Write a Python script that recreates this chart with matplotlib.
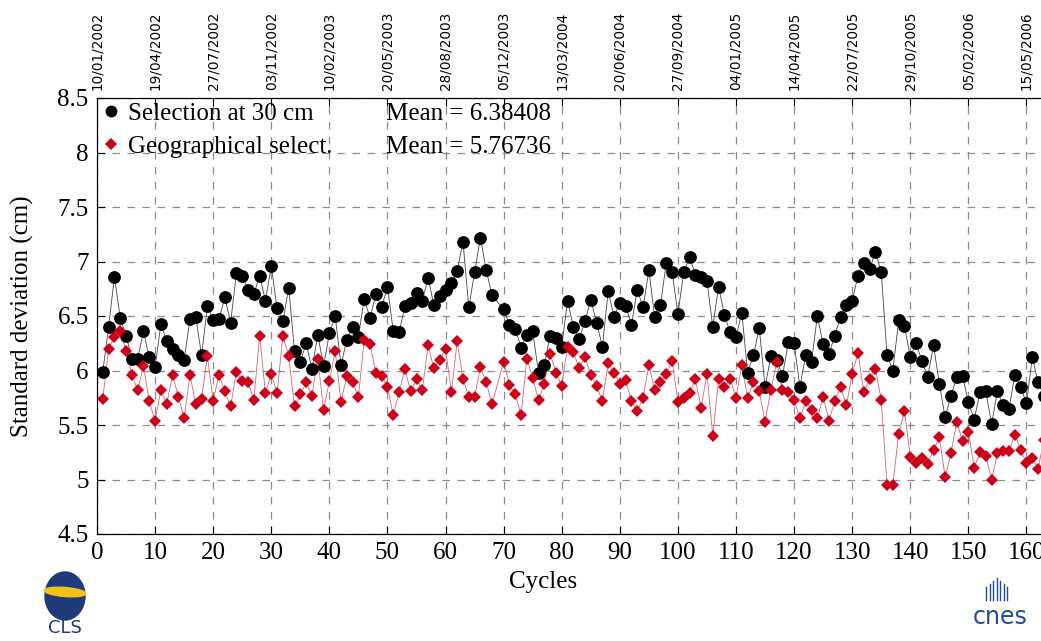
#!/usr/bin/env python3
"""
Standard deviation per cycle: selection at 30 cm vs geographical selection.
"""

import numpy as np
import matplotlib
matplotlib.use('Agg')
import matplotlib.pyplot as plt
from matplotlib.lines import Line2D
from matplotlib.patches import Ellipse

# cycles (cycle 69 missing)
cycles = [c for c in range(1, 164) if c != 69]

sel_30cm = [
    5.99, 6.40, 6.86, 6.48, 6.32, 6.11, 6.11, 6.36, 6.12, 6.03,   # 1-10
    6.43, 6.27, 6.20, 6.14, 6.10, 6.47, 6.49, 6.14, 6.59, 6.46,   # 11-20
    6.47, 6.67, 6.44, 6.89, 6.87, 6.74, 6.70, 6.87, 6.64, 6.96,   # 21-30
    6.57, 6.45, 6.76, 6.18, 6.08, 6.25, 6.01, 6.33, 6.04, 6.34,   # 31-40
    6.50, 6.05, 6.28, 6.40, 6.31, 6.66, 6.48, 6.70, 6.58, 6.77,   # 41-50
    6.36, 6.35, 6.59, 6.62, 6.71, 6.64, 6.85, 6.60, 6.68, 6.74,   # 51-60
    6.80, 6.91, 7.18, 6.58, 6.90, 7.22, 6.92, 6.69, 6.56,         # 61-68, 70
    6.42, 6.38, 6.21, 6.33, 6.36, 5.98, 6.05, 6.32, 6.30, 6.22,   # 71-80
    6.64, 6.40, 6.29, 6.45, 6.65, 6.44, 6.22, 6.73, 6.49, 6.62,   # 81-90
    6.59, 6.42, 6.74, 6.58, 6.92, 6.49, 6.60, 6.99, 6.90, 6.52,   # 91-100
    6.90, 7.04, 6.88, 6.86, 6.82, 6.40, 6.77, 6.51, 6.35, 6.31,   # 101-110
    6.53, 5.98, 6.14, 6.39, 5.85, 6.13, 6.10, 5.95, 6.26, 6.25,   # 111-120
    5.85, 6.14, 6.08, 6.50, 6.24, 6.15, 6.32, 6.49, 6.60, 6.64,   # 121-130
    6.87, 6.99, 6.93, 7.09, 6.90, 6.14, 6.00, 6.46, 6.41, 6.12,   # 131-140
    6.25, 6.09, 5.94, 6.23, 5.88, 5.57, 5.77, 5.94, 5.95, 5.71,   # 141-150
    5.55, 5.80, 5.81, 5.51, 5.81, 5.68, 5.65, 5.96, 5.85, 5.70,   # 151-160
    6.12, 5.89, 5.77,                                             # 161-163
]

geo_select = [
    5.74, 6.20, 6.31, 6.36, 6.18, 5.96, 5.82, 6.04, 5.72, 5.54,   # 1-10
    5.82, 5.69, 5.96, 5.76, 5.56, 5.96, 5.69, 5.74, 6.13, 5.72,   # 11-20
    5.96, 5.81, 5.67, 5.99, 5.90, 5.89, 5.73, 6.32, 5.79, 5.97,   # 21-30
    5.79, 6.32, 6.13, 5.67, 5.78, 5.89, 5.77, 6.11, 5.64, 5.90,   # 31-40
    6.18, 5.71, 5.95, 5.89, 5.76, 6.28, 6.24, 5.98, 5.95, 5.85,   # 41-50
    5.59, 5.80, 6.01, 5.81, 5.92, 5.82, 6.23, 6.02, 6.10, 6.20,   # 51-60
    5.80, 6.27, 5.92, 5.76, 5.76, 6.03, 5.89, 5.69, 6.08,         # 61-68, 70
    5.87, 5.78, 5.59, 6.11, 5.93, 5.73, 5.88, 6.15, 5.98, 5.86,   # 71-80
    6.22, 6.17, 6.02, 6.12, 5.96, 5.86, 5.72, 6.07, 5.98, 5.88,   # 81-90
    5.91, 5.72, 5.63, 5.75, 6.05, 5.82, 5.89, 5.97, 6.09, 5.71,   # 91-100
    5.75, 5.79, 5.92, 5.66, 5.97, 5.40, 5.92, 5.85, 5.92, 5.75,   # 101-110
    6.05, 5.75, 5.89, 5.81, 5.53, 5.82, 6.08, 5.82, 5.80, 5.73,   # 111-120
    5.56, 5.72, 5.64, 5.56, 5.76, 5.54, 5.72, 5.85, 5.68, 5.97,   # 121-130
    6.16, 5.80, 5.92, 6.01, 5.73, 4.95, 4.95, 5.42, 5.63, 5.21,   # 131-140
    5.15, 5.20, 5.14, 5.27, 5.39, 5.02, 5.24, 5.53, 5.35, 5.44,   # 141-150
    5.11, 5.25, 5.22, 5.00, 5.24, 5.26, 5.26, 5.41, 5.27, 5.15,   # 151-160
    5.20, 5.10, 5.36,                                             # 161-163
]

date_ticks = list(range(0, 161, 10))
date_labels = [
    '10/01/2002', '19/04/2002', '27/07/2002', '03/11/2002', '10/02/2003',
    '20/05/2003', '28/08/2003', '05/12/2003', '13/03/2004', '20/06/2004',
    '27/09/2004', '04/01/2005', '14/04/2005', '22/07/2005', '29/10/2005',
    '05/02/2006', '15/05/2006',
]

series_names = ['Selection at 30 cm', 'Geographical select.']
mean_labels = ['Mean = 6.38408', 'Mean = 5.76736']

BLACK = '#000000'
RED = '#cc0018'
W, H = 1041, 641

plt.rcParams['font.family'] = ['Liberation Serif', 'DejaVu Serif']
plt.rcParams['font.size'] = 18

fig = plt.figure(figsize=(W / 100, H / 100), dpi=100)
ax = fig.add_axes([97 / W, 1 - 534 / H, (W - 97) / W, (534 - 98) / H])

ax.plot(cycles, sel_30cm, '-', color='#444444', lw=0.6, zorder=3)
ax.plot(cycles, sel_30cm, 'o', color=BLACK, ms=9.2, mew=0, zorder=4)
ax.plot(cycles, geo_select, '-', color='#e06070', lw=0.6, zorder=3)
ax.plot(cycles, geo_select, 'D', color=RED, ms=6.3, mew=0, zorder=4)

ax.set_xlim(0, 162.5)
ax.set_ylim(4.5, 8.5)
ax.set_xticks(range(0, 161, 10))
ax.set_yticks(np.arange(4.5, 8.51, 0.5))
ax.set_yticklabels(['%g' % v for v in np.arange(4.5, 8.51, 0.5)])
ax.tick_params(direction='in', length=6, width=0.8, pad=6)
ax.grid(True, color='#8c8c8c', linestyle=(0, (6, 6)), linewidth=0.9)
ax.set_axisbelow(True)
ax.spines['right'].set_visible(False)
for s in ('left', 'bottom', 'top'):
    ax.spines[s].set_linewidth(0.8)

ax.set_xlabel('Cycles')
ax.xaxis.set_label_coords((543 - 97) / (W - 97), -0.085)
ax.set_ylabel('Standard deviation (cm)')
ax.yaxis.set_label_coords(-(97 - 34) / (W - 97), 0.5)

# date axis on top
top = ax.twiny()
top.set_xlim(ax.get_xlim())
top.set_xticks(date_ticks)
top.set_xticklabels(date_labels, rotation=90, family='DejaVu Sans', fontsize=9.8)
top.tick_params(direction='in', length=6, width=0.8, pad=6)
top.spines['right'].set_visible(False)

# legend (names) + mean values
handles = [
    Line2D([], [], ls='none', marker='o', color=BLACK, ms=8.5, mew=0),
    Line2D([], [], ls='none', marker='D', color=RED, ms=5.8, mew=0),
]
ax.legend(handles, series_names, loc='upper left',
          bbox_to_anchor=(98.5 / W, 1 - 102 / H), bbox_transform=fig.transFigure,
          frameon=False, borderpad=0, borderaxespad=0, handlelength=1.0,
          handletextpad=0.17, labelspacing=0.42, fontsize=18)
fig.text(386 / W, 1 - 120 / H, mean_labels[0], va='baseline', fontsize=18)
fig.text(386 / W, 1 - 153 / H, mean_labels[1], va='baseline', fontsize=18)

# logos (rough approximations)
fig.add_artist(Ellipse((65 / W, 1 - 596 / H), 40 / W, 48 / H,
                       transform=fig.transFigure, color='#1f3a7a'))
fig.add_artist(Ellipse((65 / W, 1 - 592 / H), 42 / W, 9 / H, angle=-8,
                       transform=fig.transFigure, color='#f2c21b'))
fig.text(65 / W, 1 - 633 / H, 'CLS', ha='center', va='baseline',
         family='DejaVu Sans', fontsize=13, color='#1f3a7a')
for i in range(7):
    x0 = (986 + i * 3.5) / W
    fig.add_artist(Line2D([x0, x0], [1 - 600 / H, 1 - (578 + abs(3 - i) * 3) / H],
                          transform=fig.transFigure, color='#1d4c9c', lw=1))
fig.text(1000 / W, 1 - 624 / H, 'cnes', ha='center', va='baseline',
         family='DejaVu Sans', fontsize=17, color='#1d4c9c')

fig.savefig('out.png', dpi=100)
